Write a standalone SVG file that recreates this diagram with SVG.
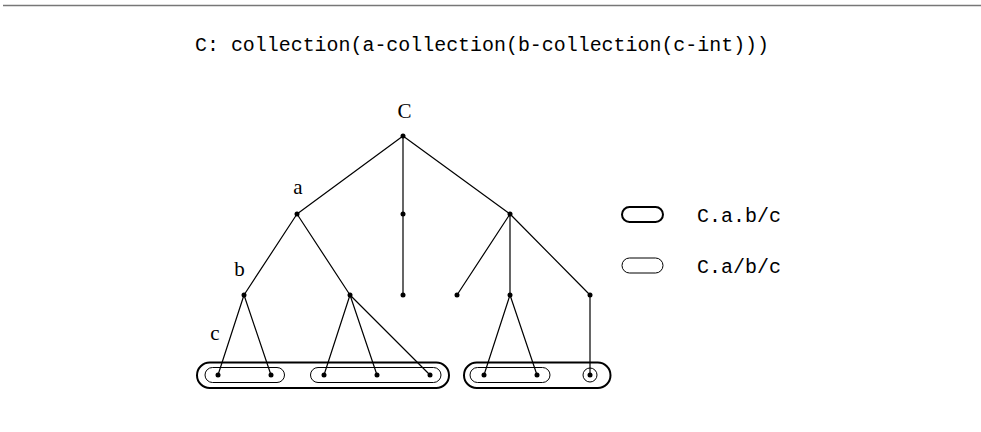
<svg xmlns="http://www.w3.org/2000/svg" width="981" height="432" viewBox="0 0 981 432">
<style>
.mono{font-family:"Liberation Mono","DejaVu Sans Mono",monospace;font-size:20px;fill:#000}
.serif{font-family:"Liberation Serif","DejaVu Serif",serif;font-size:21px;fill:#000;text-anchor:middle}
.e{stroke:#000;stroke-width:1.2;fill:none}
.dot{fill:#000}
.outer{fill:none;stroke:#000;stroke-width:2}
.inner{fill:none;stroke:#000;stroke-width:1}
</style>
<rect width="981" height="432" fill="#fff"/>
<line x1="3" y1="5.5" x2="981" y2="5.5" stroke="#777" stroke-width="1.5"/>
<text class="mono" x="195" y="51" textLength="574" lengthAdjust="spacingAndGlyphs">C: collection(a-collection(b-collection(c-int)))</text>
<g id="edges">
<path class="e" d="M403,136L297,214M403,136L403,214M403,136L510,214M297,214L244,295M297,214L350,295M403,214L403,295M510,214L457,295M510,214L510,295M510,214L590,295M244,295L218,375M244,295L271,375M350,295L324,375M350,295L377,375M350,295L430,375M510,295L484,375M510,295L537,375M590,295L590,375"/>
</g>
<g id="labels">
<text class="serif" x="404.5" y="118">C</text>
<text class="serif" x="298" y="194">a</text>
<text class="serif" x="239.5" y="276">b</text>
<text class="serif" x="215" y="340">c</text>
</g>
<g id="nodes">
<g id="n-root"><circle class="dot" cx="403" cy="136" r="2.5"/></g>
<g id="n-a"><circle class="dot" cx="297" cy="214" r="2.5"/></g>
<g id="n-m1"><circle class="dot" cx="403" cy="214" r="2.5"/></g>
<g id="n-r1"><circle class="dot" cx="510" cy="214" r="2.5"/></g>
<g id="n-b"><circle class="dot" cx="244" cy="295" r="2.5"/></g>
<g id="n-b2"><circle class="dot" cx="350" cy="295" r="2.5"/></g>
<g id="n-m2"><circle class="dot" cx="403" cy="295" r="2.5"/></g>
<g id="n-r2"><circle class="dot" cx="457" cy="295" r="2.5"/></g>
<g id="n-r3"><circle class="dot" cx="510" cy="295" r="2.5"/></g>
<g id="n-r4"><circle class="dot" cx="590" cy="295" r="2.5"/></g>
<g id="leaf1"><circle class="dot" cx="218" cy="375" r="2.5"/></g>
<g id="leaf2"><circle class="dot" cx="271" cy="375" r="2.5"/></g>
<g id="leaf3"><circle class="dot" cx="324" cy="375" r="2.5"/></g>
<g id="leaf4"><circle class="dot" cx="377" cy="375" r="2.5"/></g>
<g id="leaf5"><circle class="dot" cx="430" cy="375" r="2.5"/></g>
<g id="leaf6"><circle class="dot" cx="484" cy="375" r="2.5"/></g>
<g id="leaf7"><circle class="dot" cx="537" cy="375" r="2.5"/></g>
<g id="leaf8"><circle class="dot" cx="590" cy="375" r="2.5"/></g>
</g>
<g id="groups">
<rect class="outer" x="197" y="362.5" width="252" height="25.5" rx="12.75"/>
<rect class="inner" x="205" y="367.5" width="79.5" height="15" rx="7.5"/>
<rect class="inner" x="310.5" y="367.5" width="130.5" height="15" rx="7.5"/>
<rect class="outer" x="464" y="362.5" width="146.5" height="25.5" rx="12.75"/>
<rect class="inner" x="470" y="367.5" width="80" height="15" rx="7.5"/>
<circle class="inner" cx="590" cy="375" r="7"/>
</g>
<g id="legend">
<rect class="outer" x="622" y="207" width="41" height="15" rx="7.5"/>
<text class="mono" x="697" y="222">C.a.b/c</text>
<rect class="inner" x="622" y="258" width="41" height="15" rx="7.5"/>
<text class="mono" x="697" y="273">C.a/b/c</text>
</g>
</svg>
